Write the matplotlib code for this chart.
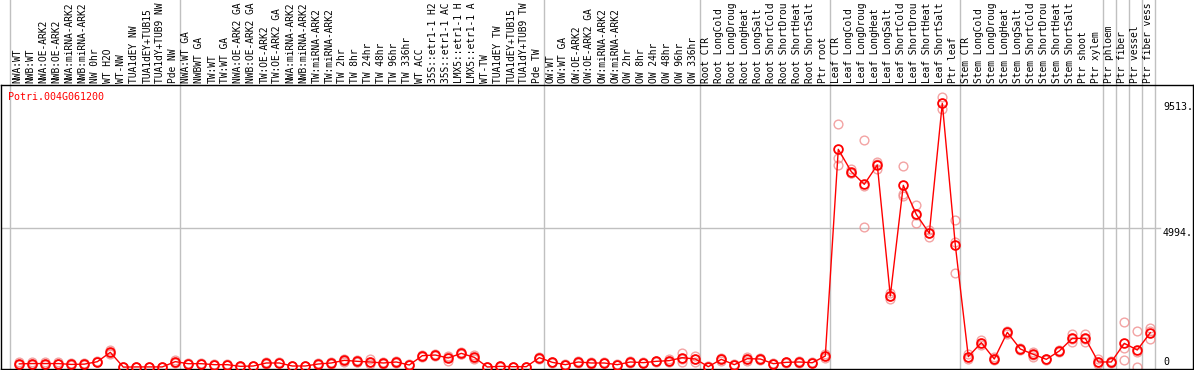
import numpy as np
import matplotlib
matplotlib.use("Agg")
import matplotlib.pyplot as plt
import matplotlib.transforms as mtransforms

plt.rcParams['font.family'] = ['DejaVu Sans Mono']

gene = "Potri.004G061200"

samples = [
    "NWA:WT", "NWB:WT", "NWA:OE-ARK2", "NWB:OE-ARK2", "NWA:miRNA-ARK2", "NWB:miRNA-ARK2",
    "NW 0hr", "WT H2O", "WT-NW", "TUA1dEY NW", "TUA1dEY+TUB15", "TUA1dY+TUB9 NW", "Pde NW",
    "NWA:WT GA", "NWBWT GA", "TW:WT", "TW:WT GA", "NWA:OE-ARK2 GA", "NWB:OE-ARK2 GA",
    "TW:OE-ARK2", "TW:OE-ARK2 GA", "NWA:miRNA-ARK2", "NWB:miRNA-ARK2", "TW:miRNA-ARK2",
    "TW:miRNA-ARK2", "TW 2hr", "TW 8hr", "TW 24hr", "TW 48hr", "TW 96hr", "TW 336hr",
    "WT ACC", "35S::etr1-1 H2", "35S::etr1-1 AC", "LMX5::etr1-1 H", "LMX5::etr1-1 A",
    "WT-TW", "TUA1dEY TW", "TUA1dEY+TUB15", "TUA1dY+TUB9 TW", "Pde TW",
    "OW:WT", "OW:WT GA", "OW:OE-ARK2", "OW:OE-ARK2 GA", "OW:miRNA-ARK2", "OW:miRNA-ARK2",
    "OW 2hr", "OW 8hr", "OW 24hr", "OW 48hr", "OW 96hr", "OW 336hr",
    "Root CTR", "Root LongCold", "Root LongDroug", "Root LongHeat", "Root LongSalt",
    "Root ShortCold", "Root ShortDrou", "Root ShortHeat", "Root ShortSalt", "Ptr root",
    "Leaf CTR", "Leaf LongCold", "Leaf LongDroug", "Leaf LongHeat", "Leaf LongSalt",
    "Leaf ShortCold", "Leaf ShortDrou", "Leaf ShortHeat", "Leaf ShortSalt", "Ptr leaf",
    "Stem CTR", "Stem LongCold", "Stem LongDroug", "Stem LongHeat", "Stem LongSalt",
    "Stem ShortCold", "Stem ShortDrou", "Stem ShortHeat", "Stem ShortSalt", "Ptr shoot",
    "Ptr xylem", "Ptr phloem", "Ptr fiber", "Ptr vessel", "Ptr fiber vess",
]

# three replicates per sample
reps = [
    [170, 110, 80], [200, 110, 80], [170, 130, 90], [170, 120, 100], [140, 90, 70],
    [160, 100, 70], [220, 190, 180], [620, 520, 460], [10, 0, 0], [15, 10, 5],
    [15, 10, 5], [15, 10, 5], [250, 190, 160],
    [150, 120, 105], [150, 120, 110], [110, 90, 73], [115, 85, 73], [45, 30, 18],
    [60, 40, 29], [175, 150, 128], [170, 150, 133], [55, 40, 34], [60, 40, 29],
    [140, 110, 95], [180, 150, 123], [300, 240, 198], [260, 200, 173], [280, 170, 111],
    [180, 150, 123], [220, 180, 161], [100, 75, 62], [450, 410, 379], [470, 430, 411],
    [400, 360, 230], [530, 490, 471], [430, 340, 292], [10, 7, 4], [40, 30, 23],
    [25, 18, 14], [25, 18, 14], [380, 340, 306],
    [200, 170, 155], [110, 90, 73], [220, 180, 161], [175, 150, 128], [170, 150, 133],
    [105, 90, 78], [210, 185, 166], [185, 160, 144], [240, 205, 188], [300, 220, 185],
    [520, 310, 196], [400, 285, 197],
    [30, 18, 9], [330, 280, 236], [110, 90, 73], [380, 300, 238], [330, 290, 262],
    [150, 125, 106], [200, 170, 155], [215, 185, 161], [180, 160, 140], [480, 400, 326],
    [8712, 7492, 7241], [7120, 6960, 6962], [8150, 6513, 5017], [7371, 7287, 7101],
    [2650, 2554, 2458], [7217, 6213, 6142], [5818, 5467, 5164], [4921, 4803, 4682],
    [9680, 9465, 9250], [5280, 4500, 3369],
    [460, 370, 304], [980, 870, 790], [350, 290, 242], [1300, 1250, 1203], [700, 650, 609],
    [560, 450, 376], [310, 280, 256], [620, 580, 543], [1200, 1010, 895], [1200, 1000, 905],
    [290, 170, 101], [230, 180, 151], [1609, 700, 258], [1298, 553, 0], [1418, 1300, 1000],
]

# last sample index of each block (vertical separators)
block_ends = [12, 40, 52, 62, 72, 83, 84, 85, 86, 87]
ytick_vals = [0, 4994, 9513]
ytick_text = ["0", "4994.", "9513."]

reps = np.array(reps, dtype=float)
means = reps.mean(axis=1)
x = np.arange(len(samples))

W, H = 1194, 370
fig = plt.figure(figsize=(W / 100, H / 100), dpi=100)
ax_left, ax_right, ax_top, ax_bot = 1, 1193, 85, 369
ax = fig.add_axes([ax_left / W, (H - ax_bot) / H,
                   (ax_right - ax_left) / W, (ax_bot - ax_top) / H])

px0, dpx = 19.3, 13.0
ax.set_xlim((ax_left - px0) / dpx, (ax_right - px0) / dpx)
zero_px, scale = 367.2, 35.87
ax.set_ylim((zero_px - ax_bot) * scale, (zero_px - ax_top) * scale)

for s in ax.spines.values():
    s.set_color('black')
    s.set_linewidth(1.0)
ax.set_xticks([])
ax.set_yticks([])

ext = H / (ax_bot - ax_top)
ax.axvline(-0.72, 0, ext, color='#c0c0c0', lw=1, clip_on=False, zorder=0)
for e in block_ends:
    ax.axvline(e + 0.37, 0, ext, color='#c0c0c0', lw=1, clip_on=False, zorder=0)
ax.axhline(ytick_vals[1], 0, 0.972, color='#c0c0c0', lw=1, zorder=0)

for k in range(reps.shape[1]):
    ax.plot(x, reps[:, k], 'o', ms=6.3, mfc='none', mec='#f08c8c', mew=1.0,
            alpha=0.8, zorder=2)
ax.plot(x, means, '-', color='red', lw=1.0, zorder=3)
ax.plot(x, means, 'o', ms=6.3, mfc='none', mec='red', mew=1.3, zorder=4)

trans = mtransforms.blended_transform_factory(ax.transData, ax.transAxes)
for i, lab in enumerate(samples):
    ax.text(i - 0.15, 1 + 2 / (ax_bot - ax_top), lab, rotation=90, ha='center',
            va='bottom', fontsize=6.9, transform=trans, clip_on=False)

tx = (1163 - px0) / dpx
for v, t in zip(ytick_vals, ytick_text):
    ax.text(tx, v, t, ha='left', va='bottom' if v == 0 else 'top', fontsize=7.2)

ax.text((8 - ax_left) / (ax_right - ax_left), 0.975, gene, color='red',
        fontsize=7.2, ha='left', va='top', transform=ax.transAxes)

fig.savefig("out.png", dpi=100)
